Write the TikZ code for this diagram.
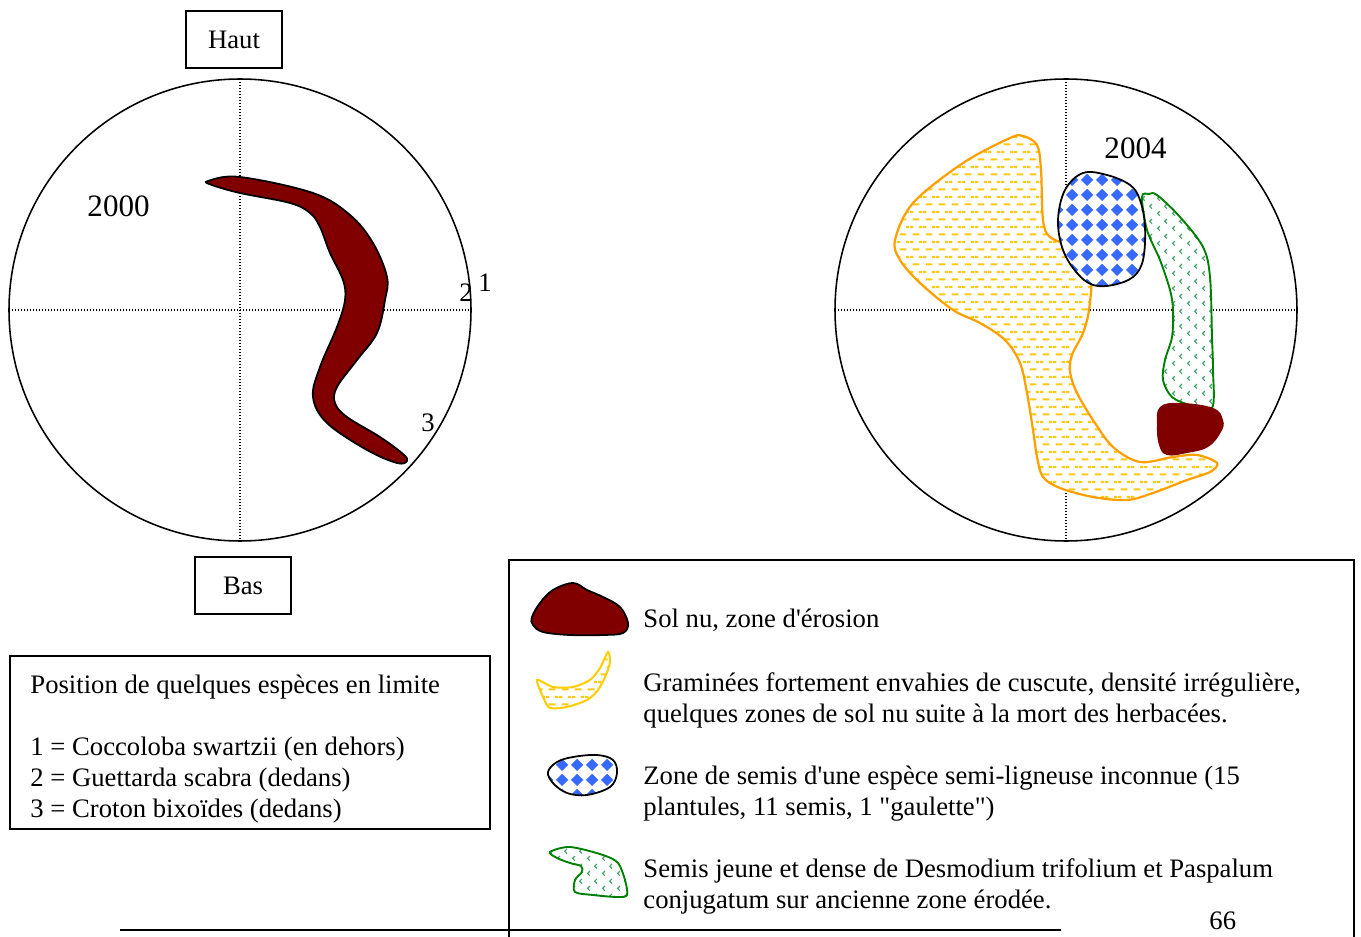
\documentclass[tikz,border=0pt]{standalone}
\usepackage{fontspec}
\setmainfont{Liberation Serif}[Ligatures=TeXOff]
\usetikzlibrary{patterns}
\pgfdeclarepatternformonly{gdash}{\pgfpointorigin}{\pgfpoint{5.85pt}{6.9pt}}{\pgfpoint{5.85pt}{6.9pt}}{%
  \pgfsetlinewidth{1.0pt}%
  \pgfpathmoveto{\pgfpoint{1.3pt}{1.7pt}}\pgfpathlineto{\pgfpoint{4.55pt}{1.7pt}}%
  \pgfpathmoveto{\pgfpoint{0pt}{5.15pt}}\pgfpathlineto{\pgfpoint{1.62pt}{5.15pt}}%
  \pgfpathmoveto{\pgfpoint{4.23pt}{5.15pt}}\pgfpathlineto{\pgfpoint{5.85pt}{5.15pt}}%
  \pgfusepath{stroke}}
\pgfdeclarepatternformonly{gdiam}{\pgfpointorigin}{\pgfpoint{6.75pt}{6.75pt}}{\pgfpoint{6.75pt}{6.75pt}}{%
  \pgfpathmoveto{\pgfpoint{3.375pt}{0.45pt}}\pgfpathlineto{\pgfpoint{6.3pt}{3.375pt}}%
  \pgfpathlineto{\pgfpoint{3.375pt}{6.3pt}}\pgfpathlineto{\pgfpoint{0.45pt}{3.375pt}}\pgfpathclose
  \pgfusepath{fill}}
\pgfdeclarepatternformonly{gchev}{\pgfpointorigin}{\pgfpoint{6.75pt}{6.75pt}}{\pgfpoint{6.75pt}{6.75pt}}{%
  \pgfsetlinewidth{0.55pt}%
  \pgfpathmoveto{\pgfpoint{2.3pt}{2.8pt}}\pgfpathlineto{\pgfpoint{1.2pt}{1.7pt}}\pgfpathlineto{\pgfpoint{2.3pt}{0.6pt}}%
  \pgfpathmoveto{\pgfpoint{5.7pt}{6.2pt}}\pgfpathlineto{\pgfpoint{4.6pt}{5.1pt}}\pgfpathlineto{\pgfpoint{5.7pt}{4.0pt}}%
  \pgfusepath{stroke}}
\definecolor{brun}{RGB}{128,0,0}
\definecolor{orangeline}{RGB}{255,160,0}
\definecolor{goldline}{RGB}{255,204,0}
\definecolor{dashcol}{RGB}{255,200,20}
\definecolor{diamcol}{RGB}{55,105,255}
\definecolor{vert}{RGB}{0,128,0}
\definecolor{chevcol}{RGB}{70,165,110}
\begin{document}
\begin{tikzpicture}[x=0.45pt,y=-0.45pt,
  every node/.style={font=\fontsize{12}{14}\selectfont, inner sep=0pt},
  txt/.style={anchor=base west},
  frame/.style={draw=black, line width=0.7pt},
  axis/.style={line width=0.6pt, dash pattern=on 0.6pt off 0.75pt},
  bare/.style={draw=black, line width=0.8pt, fill=brun},
  herbe/.style={draw=orangeline, line width=1pt, preaction={fill=white}, pattern=gdash, pattern color=dashcol},
  semis/.style={draw=black, line width=0.8pt, preaction={fill=white}, pattern=gdiam, pattern color=diamcol},
  jeune/.style={draw=vert, line width=0.85pt, preaction={fill=white}, pattern=gchev, pattern color=chevcol},
  bigyear/.style={font=\fontsize{14}{16}\selectfont, anchor=base west}]
\useasboundingbox (0,0) rectangle (1361,937);

% ---------- left circle (2000)
\coordinate (lc) at (240,310);
\draw[axis] (9,310) -- (471,310);
\draw[axis] (240,79) -- (240,541);
\draw[frame] (lc) circle[radius=231];
\draw[bare] plot[smooth cycle, tension=0.6] coordinates {
 (208,181) (240,177) (313,193) (350,215) (373,243) (387,277) (385,300) (377,333)
 (357,360) (337,387) (335,403) (347,417) (380,437) (403,454) (407,461) (397,463)
 (367,450) (327,423) (313,397) (320,367) (337,327) (345,300) (343,280) (330,253)
 (320,227) (310,213) (290,203) (240,193) (212,185)};
\node[frame, minimum width=43.2pt, minimum height=25.65pt] (haut) at (234,39.5) {Haut};
\node[frame, minimum width=43.2pt, minimum height=25.65pt] (bas) at (243,585.5) {Bas};
\node[bigyear] (y2000) at (87,217) {2000};
\node[txt] (n1) at (478,292) {1};
\node[txt] (n2) at (459,302) {2};
\node[txt] (n3) at (421,432) {3};

% ---------- right circle (2004)
\coordinate (rc) at (1066,310);
\draw[axis] (835,310) -- (1297,310);
\draw[axis] (1066,79) -- (1066,541);
\draw[frame] (rc) circle[radius=231];
\draw[herbe] plot[smooth cycle, tension=0.55] coordinates {
 (1023,136) (1037,145) (1041,170) (1043,220) (1050,237) (1073,247) (1087,257)
 (1092,272) (1089,310) (1083,333) (1072,355) (1070,372) (1077,393) (1093,420)
 (1113,447) (1140,462) (1173,457) (1197,455) (1217,463) (1210,472) (1187,480)
 (1153,493) (1127,500) (1093,497) (1060,488) (1043,477) (1037,457) (1033,430)
 (1027,393) (1020,363) (1005,340) (980,323) (953,310) (920,283) (900,260)
 (895,240) (913,203) (963,163) (1010,138)};
\draw[jeune] plot[smooth cycle, tension=0.55] coordinates {
 (1142,197) (1147,230) (1160,260) (1170,290) (1173,310) (1172,337) (1165,360)
 (1163,380) (1172,397) (1190,405) (1212,408) (1213,370) (1212,337) (1210,277)
 (1203,247) (1180,217) (1157,195) (1149,194)};
\draw[semis] plot[smooth cycle, tension=0.6] coordinates {
 (1083,173) (1107,175) (1130,185) (1140,200) (1145,227) (1143,260) (1133,277)
 (1113,285) (1093,285) (1077,273) (1063,250) (1058,220) (1065,190)};
\fill[brun] plot[smooth cycle, tension=0.7] coordinates {
 (1160,407) (1180,403) (1213,408) (1223,420) (1221,432) (1208,447) (1187,453)
 (1167,455) (1159,445) (1157,425)};
\node[bigyear] (y2004) at (1104,159) {2004};

% ---------- species box
\draw[frame] (10,656) rectangle (490,829);
\node[txt] (p0) at (30,693) {Position de quelques espèces en limite};
\node[txt] (p1) at (30,755) {1 = Coccoloba swartzii (en dehors)};
\node[txt] (p2) at (30,786) {2 = Guettarda scabra (dedans)};
\node[txt] (p3) at (30,817) {3 = Croton bixoïdes (dedans)};

% ---------- legend box
\draw[frame] (509,937) -- (509,560) -- (1354,560) -- (1354,937);
\draw[bare] plot[smooth cycle, tension=0.6] coordinates {
 (532,617) (540,603) (553,590) (573,583) (587,590) (603,597) (620,607) (628,623)
 (623,633) (603,635) (570,635) (543,632) (533,625)};
\draw[draw=goldline, line width=0.9pt, preaction={fill=white}, pattern=gdash, pattern color=dashcol]
 plot[smooth cycle, tension=0.45] coordinates {
 (537,680) (553,687) (573,687) (590,680) (600,668) (608,652) (610,662) (606,675)
 (598,690) (587,700) (567,707) (550,708) (544,699)};
\draw[semis] plot[smooth cycle, tension=0.6] coordinates {
 (548,772) (557,762) (573,757) (597,755) (613,760) (617,773) (610,787) (587,795)
 (567,793) (553,783)};
\draw[jeune] plot[smooth cycle, tension=0.5] coordinates {
 (550,852) (570,847) (603,855) (618,863) (625,880) (627,895) (617,897) (593,895)
 (575,892) (575,880) (582,872) (581,866) (570,863) (557,858)};
\node[txt] (l1) at (643,627) {Sol nu, zone d'érosion};
\node[txt] (l2a) at (643,691) {Graminées fortement envahies de cuscute, densité irrégulière,};
\node[txt] (l2b) at (643,722) {quelques zones de sol nu suite à la mort des herbacées.};
\node[txt] (l3a) at (643,784) {Zone de semis d'une espèce semi-ligneuse inconnue (15};
\node[txt] (l3b) at (643,815) {plantules, 11 semis, 1 "gaulette")};
\node[txt] (l4a) at (643,877) {Semis jeune et dense de Desmodium trifolium et Paspalum};
\node[txt] (l4b) at (643,908) {conjugatum sur ancienne zone érodée.};

% ---------- footer
\coordinate (fl) at (120,930);
\coordinate (fr) at (1061,930);
\draw[line width=0.6pt] (fl) -- (fr);
\node[txt] (page) at (1209,929) {66};
\end{tikzpicture}
\end{document}
